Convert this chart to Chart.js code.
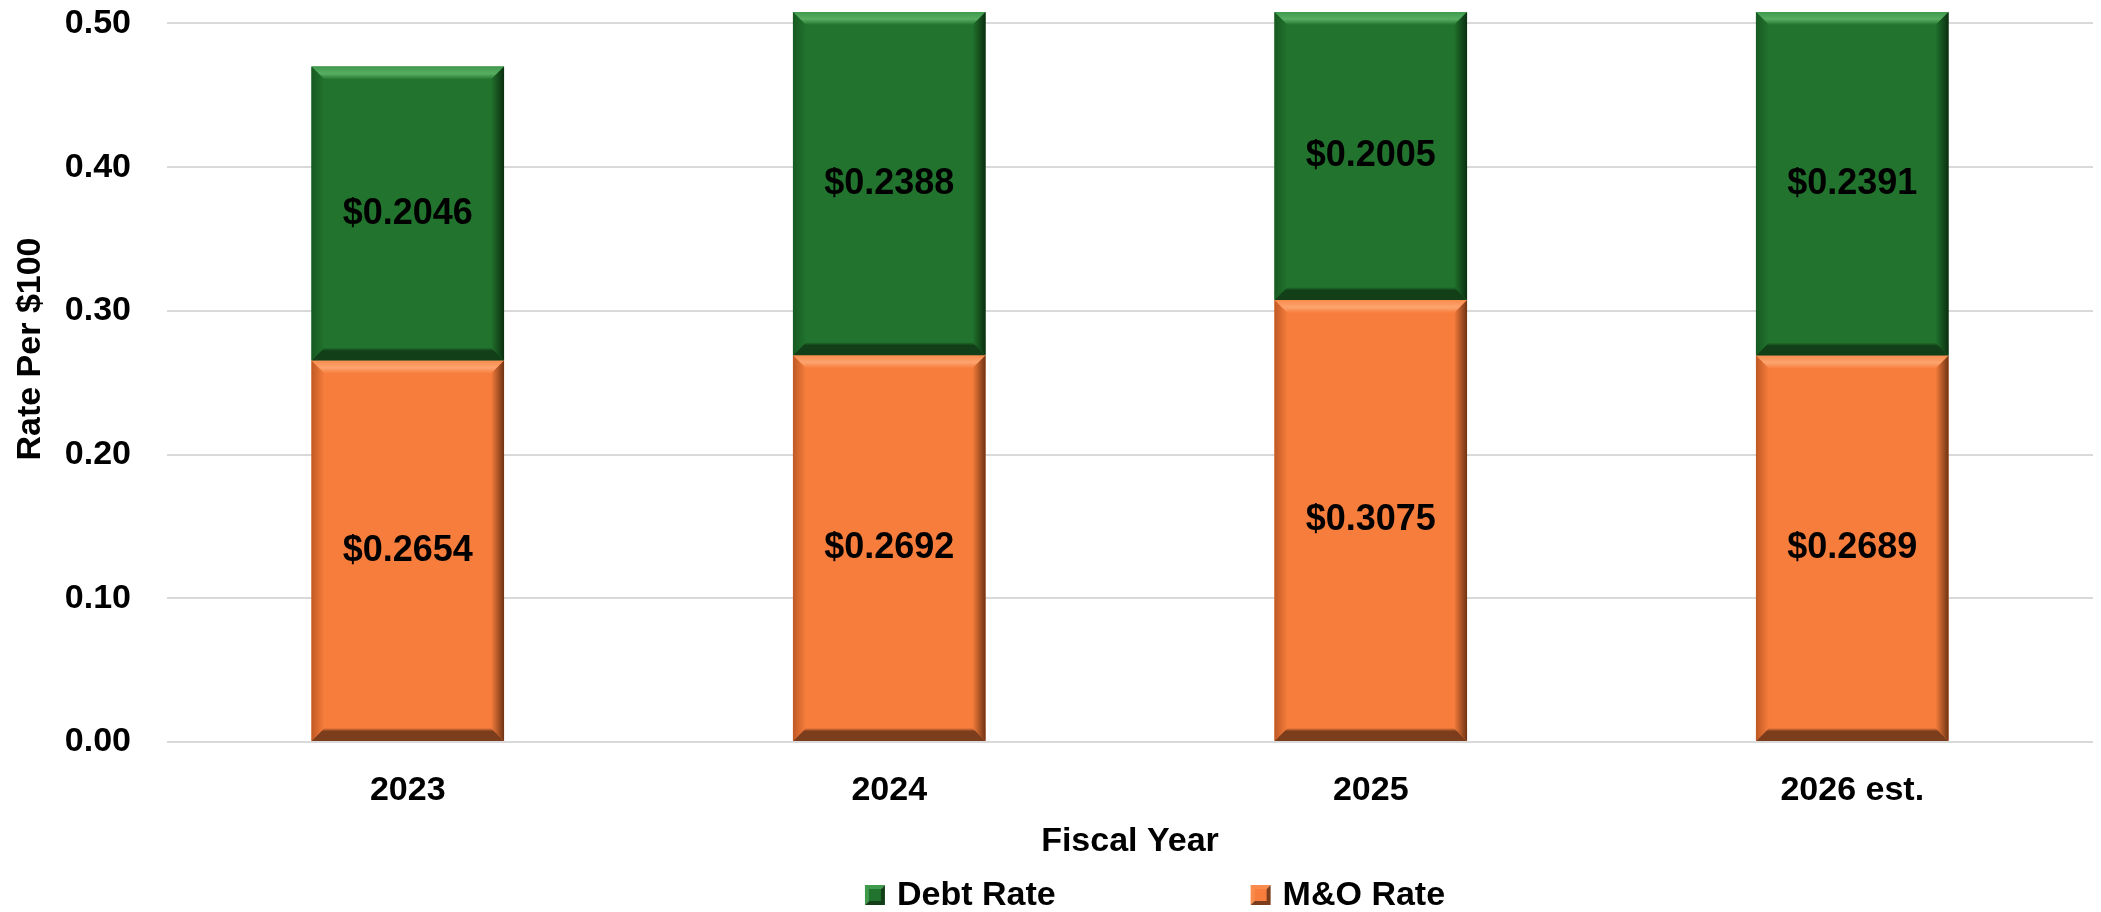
<!DOCTYPE html>
<html>
<head>
<meta charset="utf-8">
<script src="https://cdn.jsdelivr.net/npm/chart.js@4.4.1/dist/chart.umd.min.js"></script>
<style>
  html, body { margin: 0; padding: 0; background: #fff; }
  #wrap { width: 2101px; height: 912px; position: relative; }
</style>
</head>
<body>
<div id="wrap"><canvas id="rateChart"></canvas></div>
<script>
// Chart data
const years = ['2023', '2024', '2025', '2026 est.'];
const moRate = [0.2654, 0.2692, 0.3075, 0.2689];
const debtRate = [0.2046, 0.2388, 0.2005, 0.2391];
const yTicks = [0, 0.1, 0.2, 0.3, 0.4, 0.5];
const yMax = 0.508;

// Colours for each series: face, top bevel, left, right, bottom
const green = { face: '#21732D', top: '#3F9A4C', shine: '#58AE62', left: '#175A22', right: '#0B2E10', bottom: '#123F18' };
const orange = { face: '#F77D3C', top: '#F98C4C', shine: '#FCA46F', left: '#BF5924', right: '#6E3314', bottom: '#7C3D1D' };

const FONT = '"Liberation Sans", Arial, sans-serif';
Chart.defaults.font.family = FONT;
Chart.defaults.color = '#000';

// Bevelled bars + value labels
const bevelPlugin = {
    id: 'bevel',
    afterDatasetsDraw(chart) {
        const ctx = chart.ctx;
        chart.data.datasets.forEach((ds, di) => {
            const meta = chart.getDatasetMeta(di);
            const c = ds.bevel;
            meta.data.forEach((bar, i) => {
                const p = bar.getProps(['x', 'y', 'base', 'width'], true);
                const l = p.x - p.width / 2, r = p.x + p.width / 2;
                const t = Math.min(p.y, p.base), b = Math.max(p.y, p.base);
                const bv = 13;

                ctx.save();
                // top
                let g = ctx.createLinearGradient(0, t, 0, t + bv);
                g.addColorStop(0, c.top);
                g.addColorStop(0.55, c.shine);
                g.addColorStop(1, c.face);
                ctx.fillStyle = g;
                ctx.beginPath();
                ctx.moveTo(l, t); ctx.lineTo(r, t); ctx.lineTo(r - bv, t + bv); ctx.lineTo(l + bv, t + bv);
                ctx.closePath(); ctx.fill();
                // bottom
                g = ctx.createLinearGradient(0, b - bv, 0, b);
                g.addColorStop(0, c.face);
                g.addColorStop(0.25, c.bottom);
                g.addColorStop(1, c.bottom);
                ctx.fillStyle = g;
                ctx.beginPath();
                ctx.moveTo(l, b); ctx.lineTo(r, b); ctx.lineTo(r - bv, b - bv); ctx.lineTo(l + bv, b - bv);
                ctx.closePath(); ctx.fill();
                // left
                g = ctx.createLinearGradient(l, 0, l + bv, 0);
                g.addColorStop(0, c.left);
                g.addColorStop(1, c.face);
                ctx.fillStyle = g;
                ctx.beginPath();
                ctx.moveTo(l, t); ctx.lineTo(l + bv, t + bv); ctx.lineTo(l + bv, b - bv); ctx.lineTo(l, b);
                ctx.closePath(); ctx.fill();
                // right
                g = ctx.createLinearGradient(r - bv, 0, r, 0);
                g.addColorStop(0, c.face);
                g.addColorStop(1, c.right);
                ctx.fillStyle = g;
                ctx.beginPath();
                ctx.moveTo(r, t); ctx.lineTo(r - bv, t + bv); ctx.lineTo(r - bv, b - bv); ctx.lineTo(r, b);
                ctx.closePath(); ctx.fill();

                // value label
                ctx.fillStyle = '#000';
                ctx.font = 'bold 36px ' + FONT;
                ctx.textAlign = 'center';
                ctx.textBaseline = 'middle';
                ctx.fillText('$' + ds.data[i].toFixed(4), p.x, (t + b) / 2);
                ctx.restore();
            });
        });
    },
    afterDraw(chart) {
        const ctx = chart.ctx;
        ctx.save();
        ctx.font = 'bold 34px ' + FONT;
        ctx.fillStyle = '#000';

        // y axis title, sits a bit above the plot centre like the original
        ctx.save();
        ctx.translate(31, 349);
        ctx.rotate(-Math.PI / 2);
        ctx.textAlign = 'center';
        ctx.textBaseline = 'middle';
        ctx.fillText('Rate Per $100', 0, 0);
        ctx.restore();

        // legend drawn by hand so the big gap between items does not blow up its height
        const items = [chart.data.datasets[1], chart.data.datasets[0]];
        ctx.textBaseline = 'middle';
        ctx.textAlign = 'left';
        const box = 20, gap = 12, itemGap = 195;
        const widths = items.map(ds => box + gap + ctx.measureText(ds.label).width);
        const total = widths[0] + itemGap + widths[1];
        let x = 1155 - total / 2;
        const y = 895;
        items.forEach((ds, i) => {
            const c = ds.bevel;
            ctx.fillStyle = c.top;
            ctx.beginPath();
            ctx.moveTo(x, y - box / 2); ctx.lineTo(x + box, y - box / 2); ctx.lineTo(x, y + box / 2);
            ctx.closePath(); ctx.fill();
            ctx.fillStyle = c.bottom;
            ctx.beginPath();
            ctx.moveTo(x + box, y - box / 2); ctx.lineTo(x + box, y + box / 2); ctx.lineTo(x, y + box / 2);
            ctx.closePath(); ctx.fill();
            ctx.fillStyle = c.face;
            ctx.fillRect(x + 4, y - box / 2 + 4, box - 8, box - 8);
            ctx.fillStyle = '#000';
            ctx.fillText(ds.label, x + box + gap, y + 1);
            x += widths[i] + itemGap;
        });
        ctx.restore();
    }
};

const ctx = document.getElementById('rateChart').getContext('2d');
new Chart(ctx, {
    type: 'bar',
    data: {
        labels: years,
        datasets: [
            { label: 'M&O Rate', data: moRate, backgroundColor: orange.face, bevel: orange, borderWidth: 0 },
            { label: 'Debt Rate', data: debtRate, backgroundColor: green.face, bevel: green, borderWidth: 0 }
        ]
    },
    options: {
        responsive: true,
        maintainAspectRatio: false,
        animation: false,
        layout: { padding: { left: 11, right: 8, top: 12, bottom: 46 } },
        plugins: {
            legend: { display: false },
            tooltip: { enabled: false }
        },
        datasets: {
            bar: { categoryPercentage: 1, barPercentage: 0.4 }
        },
        scales: {
            x: {
                stacked: true,
                grid: { display: false, drawTicks: false },
                border: { display: false },
                ticks: { font: { size: 34, weight: 'bold' }, padding: 28, color: '#000' },
                title: { display: true, text: 'Fiscal Year', font: { size: 34, weight: 'bold' }, color: '#000', padding: { top: 0, bottom: 4 } },
                afterFit: scale => { scale.height = 124; }
            },
            y: {
                stacked: true,
                min: 0,
                max: yMax,
                afterBuildTicks: scale => { scale.ticks = yTicks.map(v => ({ value: v })); },
                afterFit: scale => { scale.width = 156; scale.paddingTop = 0; scale.paddingBottom = 0; },
                grid: { color: '#D9D9D9', lineWidth: 2, drawTicks: false },
                border: { display: false },
                ticks: {
                    font: { size: 34, weight: 'bold' },
                    padding: 36,
                    color: '#000',
                    callback: v => Number(v).toFixed(2)
                },
                title: { display: false }
            }
        }
    },
    plugins: [bevelPlugin]
});
</script>
</body>
</html>
